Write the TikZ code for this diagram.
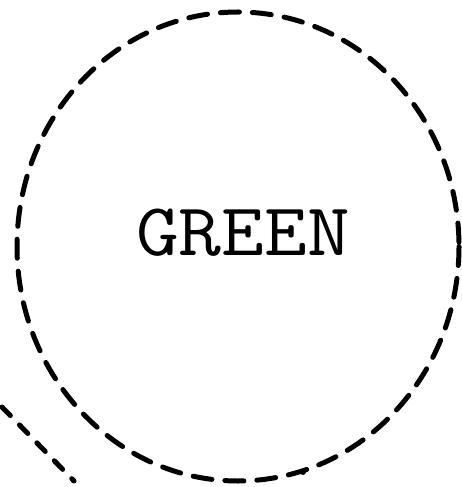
\documentclass[tikz,border=0pt]{standalone}
\tikzset{
  dashline/.style={line width=5bp, dash pattern=on 19bp off 13bp, line cap=round},
  shortdash/.style={line width=5bp, dash pattern=on 12bp off 13bp, line cap=round},
  label/.style={font=\ttfamily\fontsize{83bp}{83bp}\selectfont, inner sep=0pt, yscale=0.9}
}
\begin{document}
\begin{tikzpicture}[x=1bp,y=-1bp]
  \useasboundingbox (0,0) rectangle (462,487);
  \draw[dashline] (238,246.5) ellipse [x radius=221, y radius=234.5];
  \node[label] (green) at (243,232.5) {GREEN};
  \coordinate (l1) at (2,407);
  \coordinate (l2) at (74,481);
  \draw[shortdash] (l1) -- (l2);
  \fill (303,472) coordinate (dot) circle (3bp);
\end{tikzpicture}
\end{document}
